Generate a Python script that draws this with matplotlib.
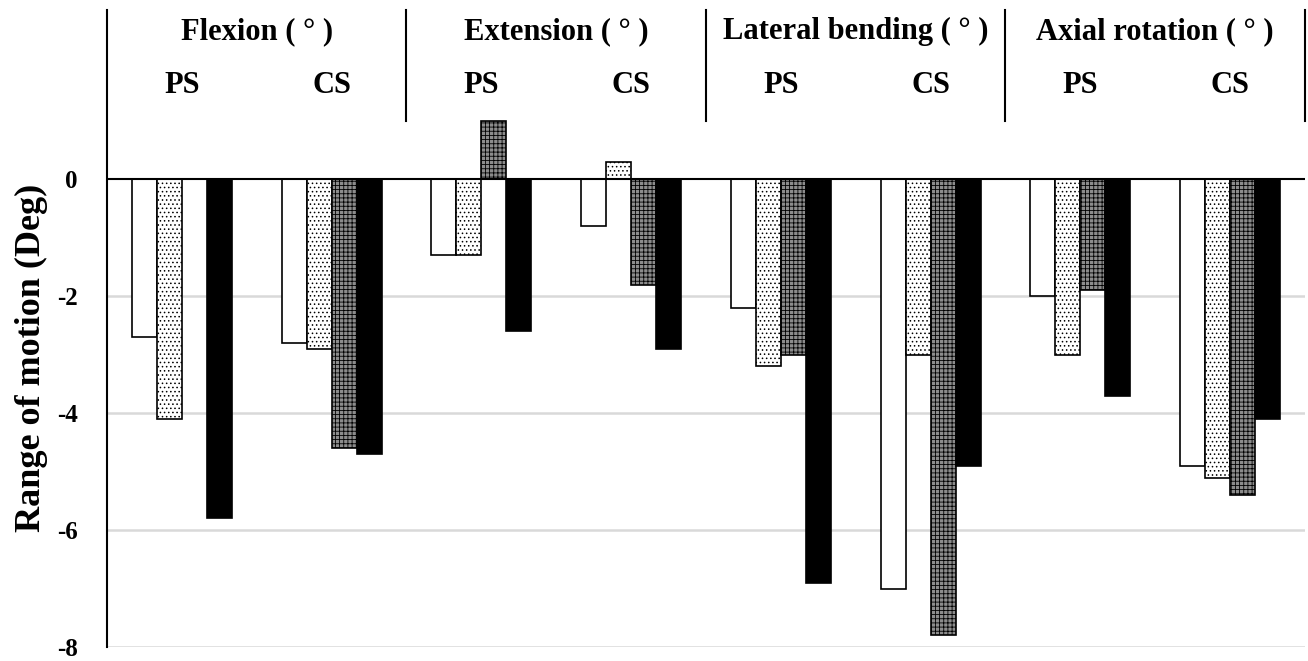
import matplotlib.pyplot as plt
import numpy as np

plt.rcParams['font.family'] = ['Liberation Serif', 'DejaVu Serif']
plt.rcParams['hatch.linewidth'] = 0.6

motions = ["Flexion ( ° )", "Extension ( ° )", "Lateral bending ( ° )", "Axial rotation ( ° )"]
subgroups = ["PS", "CS"]

# one value per group: Flexion PS, Flexion CS, Extension PS, Extension CS, LB PS, LB CS, AR PS, AR CS
series_white = [-2.7, -2.8, -1.3, -0.8, -2.2, -7.0, -2.0, -4.9]
series_light = [-4.1, -2.9, -1.3, 0.3, -3.2, -3.0, -3.0, -5.1]
series_gray = [0.0, -4.6, 1.0, -1.8, -3.0, -7.8, -1.9, -5.4]
series_black = [-5.8, -4.7, -2.6, -2.9, -6.9, -4.9, -3.7, -4.1]

yticks = [0, -2, -4, -6, -8]

fig = plt.figure(figsize=(13.08, 6.61), dpi=100)
ax = fig.add_axes([0.0818, 0.0212, 0.9159, 0.9637])

x = np.arange(len(series_white))
w = 1 / 6
styles = [
    (series_white, dict(facecolor="white", edgecolor="black")),
    (series_light, dict(facecolor="white", edgecolor="black", hatch="....")),
    (series_gray, dict(facecolor="#8c8c8c", edgecolor="black", hatch="++++")),
    (series_black, dict(facecolor="black", edgecolor="black")),
]
for k, (vals, st) in enumerate(styles):
    vals = np.array(vals)
    mask = vals != 0
    ax.bar(x[mask] + (k - 1.5) * w, vals[mask], width=w, linewidth=1.2, zorder=3, **st)

ax.set_xlim(-0.5, 7.5)
ax.set_ylim(-8, 2.9)
ax.set_yticks(yticks)
ax.set_yticklabels([str(t) for t in yticks], fontsize=18, fontweight="bold")
ax.tick_params(axis="y", length=0, pad=21)
ax.set_xticks([])
for t in [-2, -4, -6, -8]:
    ax.axhline(t, color="#d9d9d9", linewidth=1.8, zorder=1)
ax.axhline(0, color="black", linewidth=1.5, zorder=4)

for s in ["top", "right", "bottom"]:
    ax.spines[s].set_visible(False)
ax.spines["left"].set_linewidth(1.5)

ax.set_ylabel("Range of motion (Deg)", fontsize=26, fontweight="bold")
ax.yaxis.set_label_coords(-0.049, 0.454)

# header: motion names, PS/CS and separators
for i, name in enumerate(motions):
    ax.text(2 * i + 0.5, 2.53, name, ha="center", va="center", fontsize=22, fontweight="bold")
    for j, sub in enumerate(subgroups):
        ax.text(2 * i + j, 1.6, sub, ha="center", va="center", fontsize=22, fontweight="bold")
    ax.plot([2 * i + 1.5, 2 * i + 1.5], [1.0, 2.9], color="black", linewidth=1.5, clip_on=False)

fig.savefig("out.png", dpi=100)
